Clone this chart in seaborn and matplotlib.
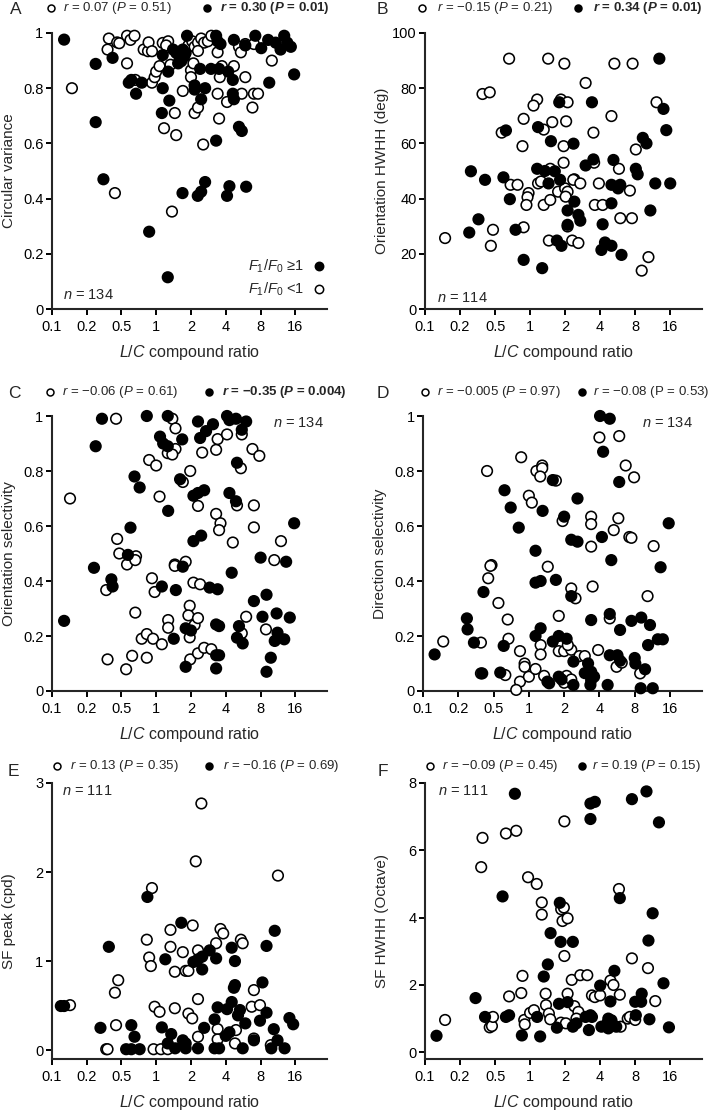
import matplotlib
matplotlib.use("Agg")
import matplotlib.pyplot as plt
from matplotlib.ticker import NullLocator
import pandas as pd
import seaborn as sns

# ---- data: L/C compound ratio (x) vs. response measure (y); open = F1/F0 < 1, filled = F1/F0 >= 1
a_open_x = [0.187, 0.38, 0.39, 0.46, 0.48, 0.56, 0.60, 0.65, 0.56, 0.66, 0.78, 0.85, 0.86, 0.92, 0.92, 0.97, 1.0, 1.07,
            1.14, 1.27, 1.33, 1.45, 1.49, 1.17, 1.70, 2.0, 2.1, 2.0, 1.9, 2.05, 2.15, 2.3, 2.45, 2.6, 2.15, 2.3, 2.55,
            2.8, 3.0, 3.4, 3.4, 3.5, 3.55, 3.7, 4.1, 4.7, 5.2, 5.4, 5.9, 5.9, 5.5, 6.8, 7.0, 7.0, 7.6, 10.0, 0.44, 1.37,
            1.22, 2.3]
a_open_y = [0.80, 0.94, 0.98, 0.966, 0.963, 0.99, 0.975, 0.99, 0.89, 0.83, 0.94, 0.934, 0.966, 0.934, 0.82, 0.84, 0.86,
            0.88, 0.964, 0.97, 0.885, 0.71, 0.63, 0.655, 0.79, 0.865, 0.89, 0.84, 0.955, 0.97, 0.95, 0.965, 0.98, 0.965,
            0.71, 0.73, 0.596, 0.97, 0.99, 0.93, 0.78, 0.69, 0.84, 0.88, 0.75, 0.88, 0.95, 0.93, 0.96, 0.84, 0.78, 0.73,
            0.96, 0.78, 0.78, 0.90, 0.42, 0.353, 0.955, 0.935]
a_fill_x = [0.16, 0.30, 0.30, 0.42, 0.58, 0.61, 0.67, 0.75, 1.14, 1.27, 1.30, 1.12, 1.14, 1.40, 1.49, 1.60, 1.65, 1.75,
            1.80, 1.85, 2.15, 2.15, 2.4, 2.45, 2.65, 2.98, 3.3, 3.3, 3.4, 3.5, 3.6, 4.2, 4.6, 4.6, 4.7, 4.7, 5.2, 5.5,
            5.9, 7.2, 8.1, 9.5, 9.3, 10.8, 11.9, 12.8, 13.6, 14.6, 15.6, 0.35, 0.87, 1.26, 1.69, 2.29, 2.45, 2.65, 4.1,
            4.3, 6.0, 1.55, 1.70]
a_fill_y = [0.976, 0.888, 0.677, 0.91, 0.82, 0.83, 0.78, 0.82, 0.80, 0.86, 0.755, 0.71, 0.92, 0.94, 0.928, 0.91, 0.898,
            0.915, 0.928, 0.99, 0.81, 0.795, 0.87, 0.76, 0.80, 0.87, 0.61, 0.99, 0.97, 0.87, 0.96, 0.86, 0.83, 0.78,
            0.76, 0.975, 0.66, 0.645, 0.955, 0.99, 0.945, 0.82, 0.975, 0.965, 0.94, 0.99, 0.965, 0.95, 0.85, 0.47,
            0.28, 0.115, 0.42, 0.41, 0.425, 0.46, 0.41, 0.445, 0.443, 0.89, 0.94]

b_open_x = [0.66, 1.43, 1.97, 5.3, 7.6, 3.0, 0.39, 0.45, 1.15, 1.07, 1.84, 2.1, 12.2, 0.88, 1.55, 2.04, 5.0, 0.57, 1.31,
            3.5, 0.86, 1.94, 8.1, 1.94, 3.55, 5.8, 1.49, 2.4, 0.186, 0.46, 0.48, 0.68, 0.78, 0.97, 0.95, 0.93, 1.17,
            1.24, 1.31, 1.49, 1.74, 2.0, 2.1, 2.02, 2.35, 2.7, 2.1, 1.45, 2.3, 2.6, 3.9, 3.6, 4.2, 5.96, 7.5, 7.2,
            10.4, 9.1, 0.88]
b_open_y = [90.7, 90.7, 88.9, 88.9, 88.9, 81.9, 77.9, 78.5, 75.9, 73.7, 75.9, 74.9, 74.9, 68.9, 67.7, 68.0, 69.9, 63.9,
            65.0, 63.9, 59.0, 59.0, 57.8, 53.0, 53.0, 50.8, 50.8, 47.0, 25.7, 22.9, 28.7, 45.0, 45.0, 42.0, 40.5, 37.7,
            45.5, 46.2, 37.7, 39.5, 42.5, 43.7, 42.5, 40.7, 46.8, 45.5, 29.9, 24.8, 24.8, 23.9, 45.5, 37.7, 37.7, 32.9,
            32.9, 42.9, 18.8, 13.9, 29.6]
b_fill_x = [12.9, 14.0, 14.8, 0.62, 1.17, 1.78, 3.4, 1.51, 2.36, 9.3, 10.0, 0.31, 1.15, 1.34, 1.63, 3.0, 3.5, 5.2, 8.1,
            8.4, 0.41, 0.59, 1.44, 1.81, 0.67, 2.4, 2.1, 2.6, 2.7, 2.1, 0.36, 0.30, 0.75, 1.70, 1.86, 4.2, 4.4, 4.1,
            5.0, 6.1, 0.88, 1.27, 5.0, 5.0, 5.95, 5.7, 10.8, 11.9, 16.0]
b_fill_y = [90.7, 72.5, 64.8, 64.7, 65.9, 74.9, 74.9, 60.8, 59.9, 62.0, 60.0, 49.9, 50.8, 50.0, 49.9, 52.0, 54.2, 54.0,
            50.8, 48.8, 46.8, 47.7, 45.5, 46.8, 39.8, 38.9, 35.7, 34.1, 32.0, 30.5, 32.5, 27.7, 28.7, 24.8, 22.9, 30.7,
            24.1, 21.4, 22.9, 19.6, 17.8, 14.8, 38.3, 45.0, 45.0, 43.7, 35.7, 45.5, 45.5]

c_open_x = [0.18, 0.45, 1.38, 1.47, 1.26, 1.47, 1.38, 0.87, 1.0, 2.5, 3.3, 3.4, 4.1, 5.5, 6.8, 7.8, 5.4, 1.97, 1.7,
            1.07, 2.3, 5.0, 7.0, 3.3, 3.6, 3.5, 7.0, 4.6, 12.0, 0.46, 0.48, 0.67, 0.56, 10.5, 1.45, 1.8, 0.37, 0.38,
            0.55, 0.62, 0.83, 0.66, 0.75, 0.83, 0.94, 0.92, 0.97, 1.12, 1.27, 1.27, 1.45, 1.95, 1.9, 1.95, 2.15, 2.3,
            2.1, 2.4, 1.97, 2.3, 2.6, 3.0, 5.5, 6.0, 8.9, 0.66]
c_open_y = [0.70, 0.99, 0.99, 0.955, 0.865, 0.88, 0.86, 0.84, 0.82, 0.867, 0.877, 0.916, 0.933, 0.933, 0.88, 0.855, 0.81,
            0.80, 0.76, 0.707, 0.673, 0.675, 0.675, 0.644, 0.61, 0.585, 0.595, 0.54, 0.545, 0.553, 0.50, 0.49, 0.46,
            0.476, 0.46, 0.47, 0.367, 0.115, 0.079, 0.128, 0.121, 0.285, 0.19, 0.207, 0.19, 0.41, 0.36, 0.17, 0.258,
            0.23, 0.455, 0.31, 0.275, 0.195, 0.24, 0.265, 0.394, 0.388, 0.115, 0.137, 0.157, 0.152, 0.21, 0.27, 0.224,
            0.476]
c_fill_x = [0.34, 0.83, 1.26, 0.30, 1.08, 1.15, 1.26, 1.68, 2.3, 3.1, 2.7, 2.4, 4.1, 4.3, 4.9, 6.0, 5.5, 5.0, 0.65, 0.72,
            1.61, 2.1, 2.3, 2.6, 4.3, 4.9, 1.27, 0.60, 2.45, 2.1, 15.6, 0.57, 8.0, 13.3, 0.29, 0.41, 0.42, 1.12, 1.48,
            1.7, 4.5, 2.9, 3.4, 0.16, 1.42, 1.8, 2.0, 3.3, 3.5, 3.3, 3.5, 3.3, 1.8, 5.2, 5.0, 5.6, 7.0, 9.0, 8.3, 11.0,
            11.2, 10.6, 12.8, 14.3, 9.8, 9.0]
c_fill_y = [0.99, 1.0, 1.0, 0.89, 0.925, 0.90, 0.89, 0.915, 0.98, 0.97, 0.945, 0.92, 1.0, 0.985, 0.99, 0.98, 0.95, 0.83,
            0.78, 0.74, 0.77, 0.71, 0.72, 0.73, 0.72, 0.69, 0.655, 0.594, 0.565, 0.545, 0.61, 0.495, 0.485, 0.47,
            0.448, 0.406, 0.38, 0.38, 0.367, 0.452, 0.43, 0.376, 0.37, 0.255, 0.19, 0.228, 0.22, 0.242, 0.236, 0.13,
            0.13, 0.082, 0.088, 0.236, 0.194, 0.173, 0.327, 0.35, 0.27, 0.282, 0.212, 0.182, 0.188, 0.267, 0.121, 0.07]

d_open_x = [0.44, 0.86, 1.16, 1.3, 1.3, 1.25, 1.7, 1.0, 1.06, 4.0, 5.9, 6.7, 7.9, 1.94, 3.4, 3.4, 5.8, 5.3, 7.2, 7.5,
            3.4, 11.6, 0.48, 1.45, 0.186, 0.39, 0.39, 0.47, 0.45, 0.55, 0.66, 0.67, 0.63, 0.84, 0.84, 0.78, 0.92, 0.92,
            1.0, 1.14, 1.26, 1.26, 1.35, 1.8, 1.8, 2.0, 2.3, 2.15, 2.0, 2.1, 2.3, 2.3, 2.5, 2.7, 3.0, 3.5, 3.9, 4.9,
            5.6, 6.2, 8.9, 10.3]
d_open_y = [0.80, 0.85, 0.80, 0.82, 0.81, 0.78, 0.765, 0.71, 0.685, 0.922, 0.927, 0.82, 0.777, 0.618, 0.634, 0.607,
            0.628, 0.585, 0.56, 0.557, 0.525, 0.527, 0.458, 0.452, 0.18, 0.176, 0.064, 0.455, 0.41, 0.32, 0.26, 0.19,
            0.058, 0.145, 0.034, 0.004, 0.10, 0.088, 0.052, 0.08, 0.167, 0.133, 0.055, 0.273, 0.145, 0.145, 0.15,
            0.167, 0.03, 0.055, 0.042, 0.373, 0.337, 0.127, 0.127, 0.38, 0.149, 0.264, 0.088, 0.103, 0.064, 0.345]
d_fill_x = [4.05, 4.9, 4.3, 5.9, 0.62, 0.70, 0.82, 1.31, 1.6, 2.6, 2.0, 2.3, 2.6, 4.2, 1.14, 5.05, 15.6, 13.3, 0.157,
            0.296, 0.30, 0.34, 0.41, 0.40, 0.61, 0.57, 1.14, 1.26, 1.7, 1.26, 1.14, 1.6, 1.8, 2.1, 2.3, 2.4, 1.8, 1.9,
            1.44, 1.49, 3.0, 3.2, 3.4, 3.4, 3.6, 3.35, 2.4, 3.4, 4.9, 4.9, 5.7, 6.0, 4.7, 6.0, 7.5, 9.1, 10.8, 8.0, 8.1,
            9.8, 10.4, 9.0, 11.4, 12.6, 13.9]
d_fill_y = [1.0, 0.99, 0.87, 0.76, 0.73, 0.667, 0.594, 0.655, 0.767, 0.70, 0.634, 0.55, 0.543, 0.56, 0.51, 0.476, 0.61,
            0.45, 0.133, 0.264, 0.224, 0.176, 0.36, 0.064, 0.164, 0.067, 0.394, 0.40, 0.404, 0.228, 0.20, 0.18, 0.20,
            0.19, 0.345, 0.107, 0.052, 0.042, 0.034, 0.028, 0.065, 0.10, 0.07, 0.04, 0.052, 0.022, 0.022, 0.258, 0.28,
            0.13, 0.13, 0.11, 0.022, 0.222, 0.255, 0.267, 0.24, 0.12, 0.10, 0.079, 0.167, 0.01, 0.01, 0.188, 0.188]

e_open_x = [2.46, 2.2, 11.3, 0.92, 1.33, 2.07, 3.6, 3.8, 5.4, 0.83, 0.18, 0.37, 0.38, 0.44, 0.47, 0.45, 0.87, 0.90, 0.95,
            1.1, 1.26, 0.97, 1.07, 1.33, 1.45, 1.45, 1.7, 1.8, 1.9, 1.9, 2.05, 2.3, 2.3, 2.3, 3.3, 3.4, 3.4, 4.9, 4.8,
            5.6, 6.7, 7.0, 7.0, 7.9, 9.8]
e_open_y = [2.77, 2.12, 1.96, 1.82, 1.35, 1.40, 1.36, 1.31, 1.24, 1.24, 0.505, 0.01, 0.01, 0.645, 0.785, 0.28, 1.04, 0.944,
            0.01, 0.01, 0.01, 0.487, 0.43, 1.16, 0.47, 0.88, 1.1, 0.89, 0.89, 0.41, 0.356, 1.12, 0.15, 0.573, 1.2, 0.236,
            0.12, 0.225, 0.075, 1.2, 0.487, 0.674, 0.13, 0.505, 0.056]
e_fill_x = [0.84, 1.65, 10.6, 0.15, 0.16, 0.33, 0.39, 0.61, 0.65, 0.55, 0.61, 0.72, 1.2, 1.12, 1.35, 1.26, 1.46, 1.7,
            1.8, 1.8, 2.3, 2.1, 2.3, 2.5, 2.5, 2.6, 2.9, 3.3, 3.2, 3.4, 3.2, 3.5, 4.1, 4.5, 4.7, 4.8, 4.5, 4.8, 4.0, 4.3,
            5.3, 5.1, 5.9, 5.6, 7.0, 7.9, 8.3, 9.0, 9.0, 10.4, 11.2, 9.9, 12.9, 14.2, 15.3]
e_fill_y = [1.72, 1.43, 1.34, 0.495, 0.495, 0.25, 1.16, 0.28, 0.15, 0.01, 0.01, 0.01, 1.02, 0.255, 0.18, 0.075, 0.02,
            0.11, 0.075, 0.02, 0.02, 0.99, 1.02, 1.05, 0.906, 0.25, 1.12, 1.03, 0.345, 0.48, 0.02, 0.02, 0.46, 0.54,
            0.70, 0.73, 1.15, 1.0, 0.16, 0.20, 0.45, 0.39, 0.30, 0.02, 0.11, 0.33, 0.76, 0.42, 1.17, 0.235, 0.11, 0.02,
            0.02, 0.36, 0.29]

f_open_x = [0.39, 0.62, 0.76, 1.97, 0.38, 0.96, 1.14, 1.26, 1.26, 1.85, 1.95, 1.90, 2.1, 5.8, 0.186, 0.45, 0.47, 0.48,
            0.66, 0.84, 0.86, 0.89, 0.90, 1.0, 1.08, 1.36, 1.37, 1.45, 1.49, 1.97, 1.84, 2.03, 2.1, 2.28, 2.4, 2.6, 2.5,
            2.7, 3.1, 3.4, 3.6, 4.0, 4.9, 5.2, 5.9, 6.0, 6.9, 7.2, 8.0, 7.5, 10.3, 11.9]
f_open_y = [6.37, 6.50, 6.58, 6.86, 5.50, 5.20, 5.00, 4.45, 4.09, 4.25, 4.30, 3.90, 3.98, 4.85, 0.96, 0.74, 0.78, 1.05,
            1.66, 1.76, 2.27, 0.96, 0.83, 1.17, 1.25, 1.74, 1.40, 1.15, 0.98, 2.86, 0.88, 0.86, 1.74, 2.15, 1.37, 1.20,
            1.0, 2.29, 2.29, 1.69, 1.64, 1.69, 2.13, 2.0, 1.71, 0.76, 1.0, 1.05, 0.96, 2.79, 2.50, 1.52]
f_fill_x = [0.74, 3.3, 3.6, 3.3, 7.5, 10.0, 12.8, 0.58, 1.8, 5.9, 11.3, 1.5, 0.157, 0.34, 0.41, 0.62, 0.66, 0.85, 1.15,
            1.22, 1.31, 1.42, 1.83, 2.33, 1.70, 1.77, 2.1, 2.33, 2.5, 3.0, 3.3, 3.4, 3.2, 4.0, 4.1, 4.6, 4.7, 5.0, 5.5,
            4.7, 4.9, 5.3, 8.0, 9.1, 9.0, 8.1, 10.6, 10.4, 14.0, 15.6]
f_fill_y = [7.68, 7.39, 7.44, 6.93, 7.52, 7.75, 6.83, 4.63, 4.44, 4.58, 4.13, 3.54, 0.49, 1.61, 1.05, 1.05, 1.10, 0.50,
            1.05, 0.47, 2.25, 2.61, 3.28, 3.28, 0.73, 1.44, 1.49, 0.76, 0.86, 1.05, 1.10, 1.05, 0.66, 1.98, 0.76, 0.86,
            0.71, 0.95, 0.76, 1.0, 1.51, 2.42, 1.50, 1.74, 1.50, 1.10, 0.98, 3.32, 2.05, 0.74]

x_ticks = [0.125, 0.25, 0.5, 1, 2, 4, 8, 16]
x_tick_labels = ["0.1", "0.2", "0.5", "1", "2", "4", "8", "16"]

sns.set_style("ticks")
plt.rcParams["font.family"] = ["Liberation Sans", "DejaVu Sans"]
plt.rcParams["mathtext.fontset"] = "custom"
plt.rcParams["mathtext.rm"] = "Liberation Sans"
plt.rcParams["mathtext.it"] = "Liberation Sans:italic"
plt.rcParams["mathtext.bf"] = "Liberation Sans:bold"
plt.rcParams["mathtext.sf"] = "Liberation Sans:bold:italic"  # used for bold italic r / P

W, H = 714, 1113
fig = plt.figure(figsize=(W / 100, H / 100), dpi=100)


def fx(px):
    return px / W


def fy(py):
    return 1 - py / H


def box(left, top, right, bottom):
    return [fx(left), fy(bottom), (right - left) / W, (bottom - top) / H]


R = r"$\mathit{r}$"
P = r"$\mathit{P}$"
RB = r"$\mathsf{r}$"
PB = r"$\mathsf{P}$"

panels = [
    dict(letter="A", pos=box(51.7, 33, 327, 309), ox=a_open_x, oy=a_open_y, fx=a_fill_x, fy=a_fill_y,
         ylim=(0, 1), yticks=[0, 0.2, 0.4, 0.6, 0.8, 1], ylabels=["0", "0.2", "0.4", "0.6", "0.8", "1"],
         ylabel="Circular variance", lpos=(10, 10), ty=8,
         t1=(51, 63, f"{R} = 0.07 ({P} = 0.51)", "normal"), t2=(207, 220, f"{RB} = 0.30 ({PB} = 0.01)", "bold"),
         n=(63, 295)),
    dict(letter="B", pos=box(425, 33, 702, 309), ox=b_open_x, oy=b_open_y, fx=b_fill_x, fy=b_fill_y,
         ylim=(0, 100), yticks=[0, 20, 40, 60, 80, 100], ylabels=["0", "20", "40", "60", "80", "100"],
         ylabel="Orientation HWHH (deg)", lpos=(377, 10), ty=8,
         t1=(422, 437, f"{R} = \u22120.15 ({P} = 0.21)", "normal"), t2=(578, 593, f"{RB} = 0.34 ({PB} = 0.01)", "bold"),
         n=(437, 298), nlabel="114"),
    dict(letter="C", pos=box(51.7, 416, 327, 691), ox=c_open_x, oy=c_open_y, fx=c_fill_x, fy=c_fill_y,
         ylim=(0, 1), yticks=[0, 0.2, 0.4, 0.6, 0.8, 1], ylabels=["0", "0.2", "0.4", "0.6", "0.8", "1"],
         ylabel="Orientation selectivity", lpos=(8, 393), ty=392,
         t1=(50, 62, f"{R} = \u22120.06 ({P} = 0.61)", "normal"), t2=(209, 222, f"{RB} = \u22120.35 ({PB} = 0.004)", "bold"),
         n=(273, 423)),
    dict(letter="D", pos=box(423, 416, 702, 691), ox=d_open_x, oy=d_open_y, fx=d_fill_x, fy=d_fill_y,
         ylim=(0, 1), yticks=[0, 0.2, 0.4, 0.6, 0.8, 1], ylabels=["0", "0.2", "0.4", "0.6", "0.8", "1"],
         ylabel="Direction selectivity", lpos=(377, 393), ty=392,
         t1=(425, 437, f"{R} = \u22120.005 ({P} = 0.97)", "normal"), t2=(582, 593, f"{R} = \u22120.08 (P = 0.53)", "normal"),
         n=(642, 423)),
    dict(letter="E", pos=box(51.7, 783, 327, 1059), ox=e_open_x, oy=e_open_y, fx=e_fill_x, fy=e_fill_y,
         ylim=(-0.1, 3), yticks=[0, 1, 2, 3], ylabels=["0", "1", "2", "3"],
         ylabel="SF peak (cpd)", lpos=(8, 772), ty=766,
         t1=(57, 70, f"{R} = 0.13 ({P} = 0.35)", "normal"), t2=(209, 223, f"{R} = \u22120.16 ({P} = 0.69)", "normal"),
         n=(62, 791), nlabel="111"),
    dict(letter="F", pos=box(425, 783, 702, 1059), ox=f_open_x, oy=f_open_y, fx=f_fill_x, fy=f_fill_y,
         ylim=(-0.2, 8), yticks=[0, 2, 4, 6, 8], ylabels=["0", "2", "4", "6", "8"],
         ylabel="SF HWHH (Octave)", lpos=(378, 772), ty=766,
         t1=(430, 442, f"{R} = \u22120.09 ({P} = 0.45)", "normal"), t2=(582, 592, f"{R} = 0.19 ({P} = 0.15)", "normal"),
         n=(438, 791), nlabel="111"),
]

for p in panels:
    ax = fig.add_axes(p["pos"])
    df = pd.concat([
        pd.DataFrame({"ratio": p["ox"], "value": p["oy"], "group": "F1/F0 <1"}),
        pd.DataFrame({"ratio": p["fx"], "value": p["fy"], "group": "F1/F0 >=1"}),
    ], ignore_index=True)
    sns.scatterplot(data=df, x="ratio", y="value", hue="group",
                    palette={"F1/F0 <1": "white", "F1/F0 >=1": "black"},
                    edgecolor="black", linewidth=1.15, s=58, legend=False,
                    clip_on=False, zorder=3, ax=ax)

    ax.set_xscale("log", base=2)
    ax.set_xlim(0.125, 30)
    ax.set_xticks(x_ticks)
    ax.set_xticklabels(x_tick_labels)
    ax.xaxis.set_minor_locator(NullLocator())
    ax.set_ylim(*p["ylim"])
    ax.set_yticks(p["yticks"])
    ax.set_yticklabels(p["ylabels"])

    sns.despine(ax=ax)
    for side in ("left", "bottom"):
        ax.spines[side].set_linewidth(1.5)
    ax.tick_params(direction="out", length=4.5, width=1.4, labelsize=10.5, colors="black")
    ax.tick_params(axis="x", pad=3.5)
    ax.tick_params(axis="y", pad=1.5)

    ax.set_xlabel(r"$\mathit{L/C}$ compound ratio", fontsize=11.5)
    ax.xaxis.set_label_coords(0.5, -0.122)
    ax.set_ylabel(p["ylabel"], fontsize=11)
    ax.yaxis.set_label_coords(-0.13, 0.5)

    # panel letter and correlation header
    fig.text(fx(p["lpos"][0]), fy(p["lpos"][1]), p["letter"], fontsize=12.5, ha="left", va="center")
    for (mx, tx, txt, weight), face in ((p["t1"], "white"), (p["t2"], "black")):
        ax.plot([fx(mx)], [fy(p["ty"])], "o", transform=fig.transFigure, clip_on=False,
                ms=5, mfc=face, mec="black", mew=1.1)
        fig.text(fx(tx), fy(p["ty"]), txt, fontsize=9.5, fontweight=weight, ha="left", va="center")

    fig.text(fx(p["n"][0]), fy(p["n"][1]), r"$\mathit{n}$ = " + p.get("nlabel", "134"),
             fontsize=10.5, ha="left", va="center")

    if p["letter"] == "A":
        axA = ax

# marker key inside panel A
for y, face, lab in ((266, "black", r"$\mathit{F}_1/\mathit{F}_0$ ≥1"), (289, "white", r"$\mathit{F}_1/\mathit{F}_0$ <1")):
    fig.text(fx(304), fy(y), lab, fontsize=10.5, ha="right", va="center")
    axA.plot([fx(319)], [fy(y)], "o", transform=fig.transFigure, clip_on=False,
             ms=6, mfc=face, mec="black", mew=1.1)

fig.savefig("out.png", dpi=100)
